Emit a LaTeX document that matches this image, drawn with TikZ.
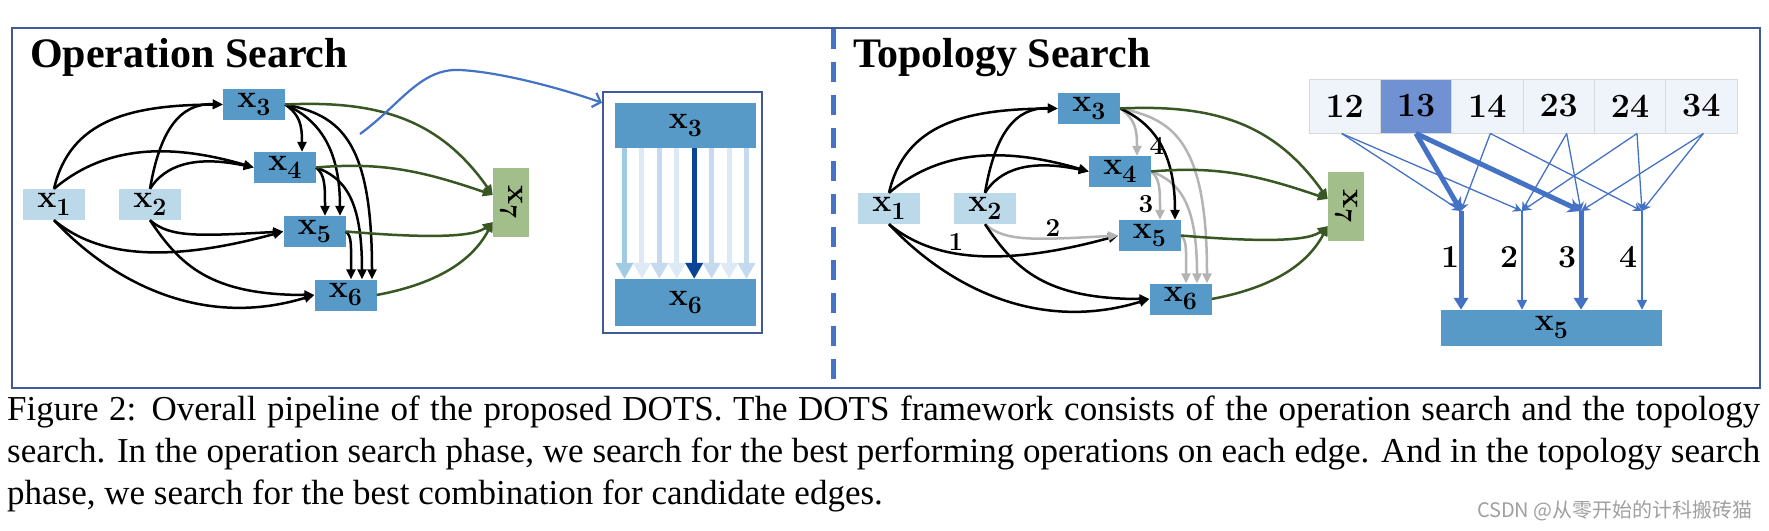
\documentclass[tikz,border=0pt]{standalone}
\usepackage{fontspec}
\usetikzlibrary{arrows.meta}
\newfontfamily\capfont{Liberation Serif}
\newfontfamily\cjkfont{Noto Sans CJK SC}
\definecolor{lbl}{RGB}{188,217,234}
\definecolor{mbl}{RGB}{87,153,199}
\definecolor{grn}{RGB}{162,190,138}
\definecolor{gedge}{RGB}{56,87,35}
\definecolor{grayE}{RGB}{180,180,180}
\definecolor{accent}{RGB}{68,114,196}
\definecolor{framec}{RGB}{65,90,150}
\definecolor{cellc}{RGB}{239,243,250}
\definecolor{cellb}{RGB}{217,217,217}
\definecolor{cellh}{RGB}{112,146,210}
\definecolor{aA}{RGB}{160,203,226}
\definecolor{aB}{RGB}{221,233,245}
\definecolor{aC}{RGB}{198,218,239}
\definecolor{aD}{RGB}{10,68,148}
\definecolor{wm}{RGB}{160,160,160}
\newcommand\nf{\fontsize{32}{32}\selectfont\bfseries}
\newcommand\xs[1]{x\raisebox{-8pt}{\fontsize{25}{25}\selectfont\bfseries #1}}
\tikzset{
  nl/.style={fill=lbl, minimum width=62pt, minimum height=31pt, inner sep=0pt, font=\nf},
  nm/.style={fill=mbl, minimum width=62pt, minimum height=31pt, inner sep=0pt, font=\nf},
  ng/.style={fill=grn, minimum width=69pt, minimum height=36pt, inner sep=0pt, font=\nf, rotate=-90},
  ek/.style={line width=2.5pt, -{Triangle[length=10pt,width=9pt]}},
  eg/.style={gedge, line width=2.5pt, -{Triangle[length=10pt,width=9pt]}},
  lab/.style={font=\fontsize{26}{27}\selectfont\bfseries, inner sep=0pt},
  biglab/.style={font=\fontsize{32}{34}\selectfont\bfseries, inner sep=0pt},
  cell/.style={fill=cellc, draw=cellb, line width=1pt, minimum width=71.33pt, minimum height=54pt, inner sep=0pt, font=\fontsize{34}{36}\selectfont\bfseries},
  thinA/.style={accent, line width=1.3pt, -{Stealth[length=9pt,width=9pt]}},
  thickA/.style={accent, line width=5pt, -{Stealth[length=13pt,width=15pt]}},
  vthin/.style={accent, line width=1.5pt, -{Triangle[length=10pt,width=10pt]}},
  vthick/.style={accent, line width=5pt, -{Triangle[length=12pt,width=14pt]}},
  opA/.style={line width=5pt, -{Triangle[length=16pt,width=17pt]}},
  ttl/.style={font=\capfont\bfseries\fontsize{42}{44}\selectfont, inner sep=0pt, anchor=base west},
  captxt/.style={font=\capfont\fontsize{35}{42}\selectfont, inner sep=0pt, anchor=base west}
}
\begin{document}
\begin{tikzpicture}[x=1pt,y=-1pt]
\useasboundingbox (0,0) rectangle (1769,530);
\fill[white] (0,0) rectangle (1769,530);
% frame and divider
\draw[framec, line width=2pt] (12,28) rectangle (1760,388);
\draw[accent, line width=5pt, dash pattern=on 20pt off 13pt] (833,29) -- (833,388);
% titles
\node[ttl] (t1) at (30,67) {Operation Search};
\node[ttl] (t2) at (853,67) {Topology Search};
% two graphs
\foreach \P/\sx/\sy/\cc in {L/0/0/black, R/835/4/grayE} {
\begin{scope}[shift={(\sx,\sy)}]
  \node[nl] (\P1) at (54,204.5) {\xs1};
  \node[nl] (\P2) at (150,204.5) {\xs2};
  \node[nm] (\P3) at (254,104.5) {\xs3};
  \node[nm] (\P4) at (285,167.5) {\xs4};
  \node[nm] (\P5) at (314.5,231.5) {\xs5};
  \node[nm] (\P6) at (345.5,295) {\xs6};
  \node[ng] (\P7) at (511,202.5) {\xs7};
  \draw[ek] (\P1.north) .. controls (70,120) and (130,105) .. (\P3.west);
  \draw[ek] (\P1.north) .. controls (100,150) and (160,140) .. (\P4.west);
  \draw[ek] (\P2.north) .. controls (160,130) and (180,103) .. (\P3.west);
  \draw[ek] (\P2.north) .. controls (165,165) and (195,155) .. (\P4.west);
  \draw[ek] (\P1.south) .. controls (90,250) and (150,268) .. (\P5.west);
  \draw[ek] (\P1.south) .. controls (110,280) and (200,330) .. (\P6.west);
  \draw[ek,\cc] (\P2.south) .. controls (170,238) and (200,236) .. (\P5.west);
  \draw[ek] (\P2.south) .. controls (180,265) and (210,295) .. (\P6.west);
  \draw[ek,\cc] (\P3.east) .. controls (300,115) and (302,125) .. ([xshift=17pt]\P4.north);
  \draw[ek,\cc] (\P3.east) .. controls (340,115) and (372,140) .. ([xshift=26.5pt]\P6.north);
  \draw[ek,\cc] (\P4.east) .. controls (325,175) and (325,185) .. ([xshift=10.5pt]\P5.north);
  \draw[ek,\cc] (\P4.east) .. controls (345,178) and (362,200) .. ([xshift=16.5pt]\P6.north);
  \draw[ek,\cc] (\P5.east) .. controls (352,236) and (351,245) .. ([xshift=5.5pt]\P6.north);
  \draw[ek] (\P3.east) .. controls (320,120) and (340,150) .. ([xshift=25.5pt]\P5.north);
  \draw[eg] (\P3.east) .. controls (380,100) and (440,120) .. ([yshift=7.5pt]\P7.south);
  \draw[eg] (\P4.east) .. controls (380,162) and (420,170) .. ([yshift=7.5pt]\P7.south);
  \draw[eg] (\P5.east) .. controls (400,236) and (470,240) .. ([yshift=-19.5pt]\P7.south);
  \draw[eg] (\P6.east) .. controls (430,285) and (470,265) .. ([yshift=-19.5pt]\P7.south);
\end{scope}
}
% labels on right graph
\node[lab] (n4) at (1157,146) {4};
\node[lab] (n3) at (1146,204) {3};
\node[lab] (n2) at (1053,228) {2};
\node[lab] (n1) at (956,242) {1};
% inset
\node[draw=framec, line width=2pt, minimum width=159pt, minimum height=241pt, inner sep=0pt] (box) at (682.5,212.5) {};
\node[fill=mbl, minimum width=141pt, minimum height=45pt, inner sep=0pt, font=\nf] (in3) at (685.5,125.5) {\xs3};
\node[fill=mbl, minimum width=141pt, minimum height=47pt, inner sep=0pt, font=\nf] (in6) at (685.5,302.5) {\xs6};
\foreach \k/\c in {0/aA,1/aB,2/aC,3/aB,4/aD,5/aC,6/aB,7/aC} {
  \draw[opA,\c] ([xshift={-61+17.43*\k}]in3.south) -- ([xshift={-61+17.43*\k}]in6.north);
}
\coordinate (bs) at (360,134);
\draw[accent, line width=2.2pt, -{Straight Barb[length=7pt,width=15pt]}] (bs) .. controls (400,105) and (420,68) .. (460,70) .. controls (500,72) and (560,88) .. (box.west |- in3.north);
% grid
\node[cell] (c12) at (1344.67,106) {12};
\node[cell, fill=cellh] (c13) at (1416,106) {13};
\node[cell] (c14) at (1487.33,106) {14};
\node[cell] (c23) at (1558.67,106) {23};
\node[cell] (c24) at (1630,106) {24};
\node[cell] (c34) at (1701.33,106) {34};
\node[fill=mbl, minimum width=221pt, minimum height=36pt, inner sep=0pt, font=\nf] (X5) at (1551.5,328) {\xs5};
\coordinate (p1) at (1461,211);
\coordinate (p2) at (1522,211);
\coordinate (p3) at (1581,211);
\coordinate (p4) at (1642,211);
\draw[thinA] ([xshift=-3pt]c12.south) -- (p1);
\draw[thinA] ([xshift=-3pt]c12.south) -- (p2);
\draw[thickA] (c13.south) -- (p1);
\draw[thickA] (c13.south) -- (p3);
\draw[thinA] ([xshift=3pt]c14.south) -- (p1);
\draw[thinA] ([xshift=3pt]c14.south) -- (p4);
\draw[thinA] ([xshift=8pt]c23.south) -- (p2);
\draw[thinA] ([xshift=8pt]c23.south) -- (p3);
\draw[thinA] ([xshift=7pt]c24.south) -- (p2);
\draw[thinA] ([xshift=7pt]c24.south) -- (p4);
\draw[thinA] ([xshift=2pt]c34.south) -- (p3);
\draw[thinA] ([xshift=2pt]c34.south) -- (p4);
\draw[vthick] (p1) -- (p1 |- X5.north);
\draw[vthin] (p2) -- (p2 |- X5.north);
\draw[vthick] (p3) -- (p3 |- X5.north);
\draw[vthin] (p4) -- (p4 |- X5.north);
\node[biglab] (m1) at (1450,257) {1};
\node[biglab] (m2) at (1509,257) {2};
\node[biglab] (m3) at (1567,257) {3};
\node[biglab] (m4) at (1628,257) {4};
% caption
\node[captxt] (cap1) at (7,420) {\hbox to 1753pt{Figure 2: Overall pipeline of the proposed DOTS. The DOTS framework consists of the operation search and the topology}};
\node[captxt] (cap2) at (7,462) {\hbox to 1753pt{search. In the operation search phase, we search for the best performing operations on each edge. And in the topology search}};
\node[captxt] (cap3) at (7,504) {phase, we search for the best combination for candidate edges.};
\node[anchor=east, inner sep=0pt, text=wm, font=\cjkfont\fontsize{20}{22}\selectfont] (wmk) at (1753,511) {CSDN @从零开始的计科搬砖猫};
\end{tikzpicture}
\end{document}
